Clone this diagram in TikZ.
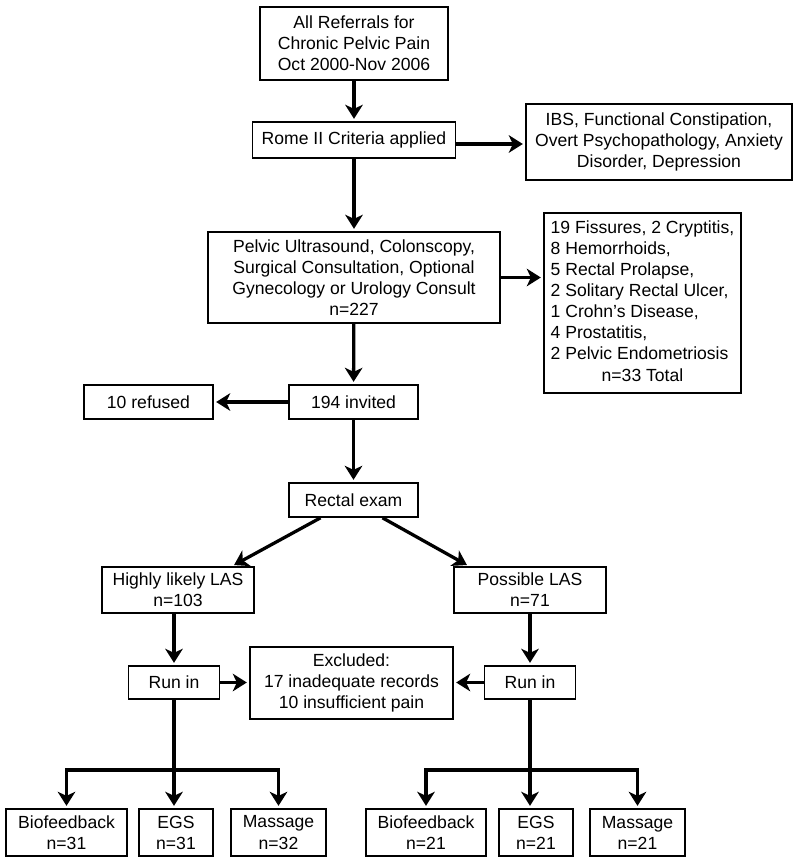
\documentclass[tikz,border=0pt]{standalone}
\usepackage{fontspec}
\setmainfont{Liberation Sans}
\usetikzlibrary{arrows.meta,calc}
\tikzset{
	caja/.style={rectangle, draw=black, line width=1.4pt, fill=white,
		align=center, inner sep=2pt, font=\fontsize{15}{18}\selectfont},
	corta/.style={caja, minimum width=3.87cm, minimum height=1.02cm},
	grupo/.style={caja, minimum width=4.56cm, minimum height=1.38cm},
	runin/.style={caja, minimum width=2.73cm, minimum height=0.99cm},
	hoja/.style={caja, minimum height=1.41cm},
	flecha/.style={-{Stealth[length=12pt,width=15pt,inset=3.5pt]},
		line width=2.8pt, shorten >=2pt},
	tronco/.style={line width=2.8pt}
}
\begin{document}
\begin{tikzpicture}[x=0.03cm, y=-0.03cm]
	\useasboundingbox (0,0) rectangle (800,864);
	
	\node[caja, minimum width=5.64cm, minimum height=2.19cm] (ref) at (354,43.5) {All Referrals for\\Chronic Pelvic Pain\\Oct 2000-Nov 2006};
	\node[caja, minimum width=6.09cm, minimum height=1.08cm] (rome) at (354,140) {Rome II Criteria applied};
	\node[caja, minimum width=7.98cm, minimum height=2.28cm] (ibs) at (659,142) {IBS, Functional Constipation,\\Overt Psychopathology, Anxiety\\Disorder, Depression};
	\node[caja, minimum width=8.76cm, minimum height=2.73cm] (pelvic) at (354,277.5) {Pelvic Ultrasound, Colonscopy,\\Surgical Consultation, Optional\\Gynecology or Urology Consult\\n=227};
	\node[caja, minimum width=5.91cm, minimum height=5.4cm] (hallazgos) at (642.5,303) {\begin{tabular}{@{}l@{}}
			19 Fissures, 2 Cryptitis,\\
			8 Hemorrhoids,\\
			5 Rectal Prolapse,\\
			2 Solitary Rectal Ulcer,\\
			1 Crohn’s Disease,\\
			4 Prostatitis,\\
			2 Pelvic Endometriosis\\
			\multicolumn{1}{@{}c@{}}{n=33 Total}
		\end{tabular}};
	
	\node[corta] (invited) at (353.5,402) {194 invited};
	\node[corta] (refused) at (148.5,402) {10 refused};
	\node[corta] (rectal) at (353.5,500) {Rectal exam};
	
	\node[grupo] (highly) at (178,590) {Highly likely LAS\\n=103};
	\node[grupo] (possible) at (530,590) {Possible LAS\\n=71};
	
	\node[runin] (runL) at (174,682.5) {Run in};
	\node[runin] (runR) at (530,682.5) {Run in};
	\node[caja, minimum width=6.09cm, minimum height=2.16cm] (excluded) at (351.5,683) {Excluded:\\17 inadequate records\\10 insufficient pain};
	
	\node[hoja, minimum width=3.63cm] (bioL) at (66.5,832.5) {Biofeedback\\n=31};
	\node[hoja, minimum width=2.22cm] (egsL) at (176,832.5) {EGS\\n=31};
	\node[hoja, minimum width=2.85cm] (masL) at (278.5,832.5) {Massage\\n=32};
	\node[hoja, minimum width=3.6cm] (bioR) at (426,832.5) {Biofeedback\\n=21};
	\node[hoja, minimum width=2.22cm] (egsR) at (536,832.5) {EGS\\n=21};
	\node[hoja, minimum width=2.85cm] (masR) at (637.5,832.5) {Massage\\n=21};
	
	\coordinate (barraL) at (174,770);
	\coordinate (barraR) at (530,770);
	
	\draw[flecha] (ref) -- (rome);
	\draw[flecha] ($(rome.east)+(0,4)$) -- ($(rome.east -| ibs.west)+(0,4)$);
	\draw[flecha] (rome) -- (pelvic);
	\draw[flecha] (pelvic.east) -- (pelvic.east -| hallazgos.west);
	\draw[flecha] (pelvic) -- (invited);
	\draw[flecha] (invited) -- (refused);
	\draw[flecha] (invited) -- (rectal);
	\draw[flecha] ($(rectal.south)+(-33,0)$) -- ($(highly.north)+(54,0)$);
	\draw[flecha] ($(rectal.south)+(29,0)$) -- ($(possible.north)+(-61,0)$);
	\draw[flecha] (highly.south -| runL) -- (runL);
	\draw[flecha] (possible) -- (runR);
	\draw[flecha] (runL.east) -- (runL.east -| excluded.west);
	\draw[flecha] (runR.west) -- (runR.west -| excluded.east);
	
	% ramas de la izquierda
	\draw[tronco] (runL.south) -- (barraL);
	\draw[flecha] (barraL) -| (bioL);
	\draw[flecha] (barraL) -| (masL);
	\draw[flecha] (barraL) -- (barraL |- egsL.north);
	
	% ramas de la derecha
	\draw[tronco] (runR.south) -- (barraR);
	\draw[flecha] (barraR) -| (bioR);
	\draw[flecha] (barraR) -| (masR);
	\draw[flecha] (barraR) -- (barraR |- egsR.north);
\end{tikzpicture}
\end{document}
